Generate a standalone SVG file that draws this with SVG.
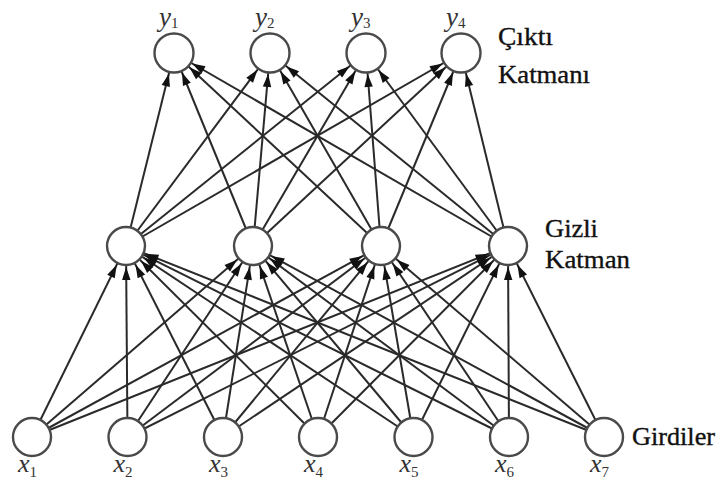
<svg xmlns="http://www.w3.org/2000/svg" width="719" height="485" viewBox="0 0 719 485">
  <style>
    .node { fill: #ffffff; stroke: #4a4a4a; stroke-width: 2.4; }
    .edge { stroke: #2a2a2a; stroke-width: 2; fill: none; marker-end: url(#head); }
    .lbl { font-family: 'Liberation Serif', 'DejaVu Serif', serif; fill: #111111; stroke: #111111; stroke-width: 0.35; }
    .var { font-family: 'Liberation Serif', 'DejaVu Serif', serif; font-style: italic; fill: #333333; }
    .sub { font-size: 15px; font-style: normal; }
  </style>
  <defs>
    <!-- arrowhead drawn back from the line end so its tip sits on the target circle -->
    <marker id="head" markerUnits="userSpaceOnUse" markerWidth="40" markerHeight="20" refX="21" refY="0" orient="auto" overflow="visible">
      <path d="M0,0 L-13,-4.2 L-13,4.2 Z" fill="#111"/>
    </marker>
  </defs>
  <rect width="719" height="485" fill="#ffffff"/>

  <!-- connectors: input layer to hidden layer, hidden layer to output layer -->
  <g id="edges">
    <!-- x1 -->
    <line class="edge" x1="32" y1="437" x2="126" y2="246"/>
    <line class="edge" x1="32" y1="437" x2="253" y2="246"/>
    <line class="edge" x1="32" y1="437" x2="381" y2="246"/>
    <line class="edge" x1="32" y1="437" x2="508" y2="246"/>
    <!-- x2 -->
    <line class="edge" x1="127.5" y1="437" x2="126" y2="246"/>
    <line class="edge" x1="127.5" y1="437" x2="253" y2="246"/>
    <line class="edge" x1="127.5" y1="437" x2="381" y2="246"/>
    <line class="edge" x1="127.5" y1="437" x2="508" y2="246"/>
    <!-- x3 -->
    <line class="edge" x1="223" y1="437" x2="126" y2="246"/>
    <line class="edge" x1="223" y1="437" x2="253" y2="246"/>
    <line class="edge" x1="223" y1="437" x2="381" y2="246"/>
    <line class="edge" x1="223" y1="437" x2="508" y2="246"/>
    <!-- x4 -->
    <line class="edge" x1="318" y1="437" x2="126" y2="246"/>
    <line class="edge" x1="318" y1="437" x2="253" y2="246"/>
    <line class="edge" x1="318" y1="437" x2="381" y2="246"/>
    <line class="edge" x1="318" y1="437" x2="508" y2="246"/>
    <!-- x5 -->
    <line class="edge" x1="413.5" y1="437" x2="126" y2="246"/>
    <line class="edge" x1="413.5" y1="437" x2="253" y2="246"/>
    <line class="edge" x1="413.5" y1="437" x2="381" y2="246"/>
    <line class="edge" x1="413.5" y1="437" x2="508" y2="246"/>
    <!-- x6 -->
    <line class="edge" x1="509" y1="437" x2="126" y2="246"/>
    <line class="edge" x1="509" y1="437" x2="253" y2="246"/>
    <line class="edge" x1="509" y1="437" x2="381" y2="246"/>
    <line class="edge" x1="509" y1="437" x2="508" y2="246"/>
    <!-- x7 -->
    <line class="edge" x1="604" y1="437" x2="126" y2="246"/>
    <line class="edge" x1="604" y1="437" x2="253" y2="246"/>
    <line class="edge" x1="604" y1="437" x2="381" y2="246"/>
    <line class="edge" x1="604" y1="437" x2="508" y2="246"/>
    <!-- hidden to output -->
    <line class="edge" x1="126" y1="246" x2="174" y2="53"/>
    <line class="edge" x1="126" y1="246" x2="270" y2="53"/>
    <line class="edge" x1="126" y1="246" x2="366" y2="53"/>
    <line class="edge" x1="126" y1="246" x2="461" y2="53"/>
    <line class="edge" x1="253" y1="246" x2="174" y2="53"/>
    <line class="edge" x1="253" y1="246" x2="270" y2="53"/>
    <line class="edge" x1="253" y1="246" x2="366" y2="53"/>
    <line class="edge" x1="253" y1="246" x2="461" y2="53"/>
    <line class="edge" x1="381" y1="246" x2="174" y2="53"/>
    <line class="edge" x1="381" y1="246" x2="270" y2="53"/>
    <line class="edge" x1="381" y1="246" x2="366" y2="53"/>
    <line class="edge" x1="381" y1="246" x2="461" y2="53"/>
    <line class="edge" x1="508" y1="246" x2="174" y2="53"/>
    <line class="edge" x1="508" y1="246" x2="270" y2="53"/>
    <line class="edge" x1="508" y1="246" x2="366" y2="53"/>
    <line class="edge" x1="508" y1="246" x2="461" y2="53"/>
  </g>

  <!-- output layer -->
  <g id="y1"><circle class="node" cx="174" cy="53" r="19.5"/><text class="var" x="159" y="26" font-size="27">y<tspan class="sub" dy="2">1</tspan></text></g>
  <g id="y2"><circle class="node" cx="270" cy="53" r="19.5"/><text class="var" x="255" y="26" font-size="27">y<tspan class="sub" dy="2">2</tspan></text></g>
  <g id="y3"><circle class="node" cx="366" cy="53" r="19.5"/><text class="var" x="351" y="26" font-size="27">y<tspan class="sub" dy="2">3</tspan></text></g>
  <g id="y4"><circle class="node" cx="461" cy="53" r="19.5"/><text class="var" x="446" y="26" font-size="27">y<tspan class="sub" dy="2">4</tspan></text></g>

  <!-- hidden layer -->
  <g id="h1"><circle class="node" cx="126" cy="246" r="19"/></g>
  <g id="h2"><circle class="node" cx="253" cy="246" r="19"/></g>
  <g id="h3"><circle class="node" cx="381" cy="246" r="19"/></g>
  <g id="h4"><circle class="node" cx="508" cy="246" r="19"/></g>

  <!-- input layer -->
  <g id="x1"><circle class="node" cx="32" cy="437" r="19"/><text class="var" x="18" y="472" font-size="26">x<tspan class="sub" dy="5">1</tspan></text></g>
  <g id="x2"><circle class="node" cx="127.5" cy="437" r="19"/><text class="var" x="113.5" y="472" font-size="26">x<tspan class="sub" dy="5">2</tspan></text></g>
  <g id="x3"><circle class="node" cx="223" cy="437" r="19"/><text class="var" x="209" y="472" font-size="26">x<tspan class="sub" dy="5">3</tspan></text></g>
  <g id="x4"><circle class="node" cx="318" cy="437" r="19"/><text class="var" x="304" y="472" font-size="26">x<tspan class="sub" dy="5">4</tspan></text></g>
  <g id="x5"><circle class="node" cx="413.5" cy="437" r="19"/><text class="var" x="399.5" y="472" font-size="26">x<tspan class="sub" dy="5">5</tspan></text></g>
  <g id="x6"><circle class="node" cx="509" cy="437" r="19"/><text class="var" x="495" y="472" font-size="26">x<tspan class="sub" dy="5">6</tspan></text></g>
  <g id="x7"><circle class="node" cx="604" cy="437" r="19"/><text class="var" x="590" y="472" font-size="26">x<tspan class="sub" dy="5">7</tspan></text></g>

  <!-- layer captions -->
  <g id="captions">
    <text class="lbl" x="498" y="45" font-size="25" textLength="55" lengthAdjust="spacingAndGlyphs">Çıktı</text>
    <text class="lbl" x="498" y="83" font-size="25" textLength="92" lengthAdjust="spacingAndGlyphs">Katmanı</text>
    <text class="lbl" x="545" y="237" font-size="25" textLength="53" lengthAdjust="spacingAndGlyphs">Gizli</text>
    <text class="lbl" x="545" y="268" font-size="25" textLength="85" lengthAdjust="spacingAndGlyphs">Katman</text>
    <text class="lbl" x="632" y="445" font-size="25" textLength="83" lengthAdjust="spacingAndGlyphs">Girdiler</text>
  </g>
</svg>
